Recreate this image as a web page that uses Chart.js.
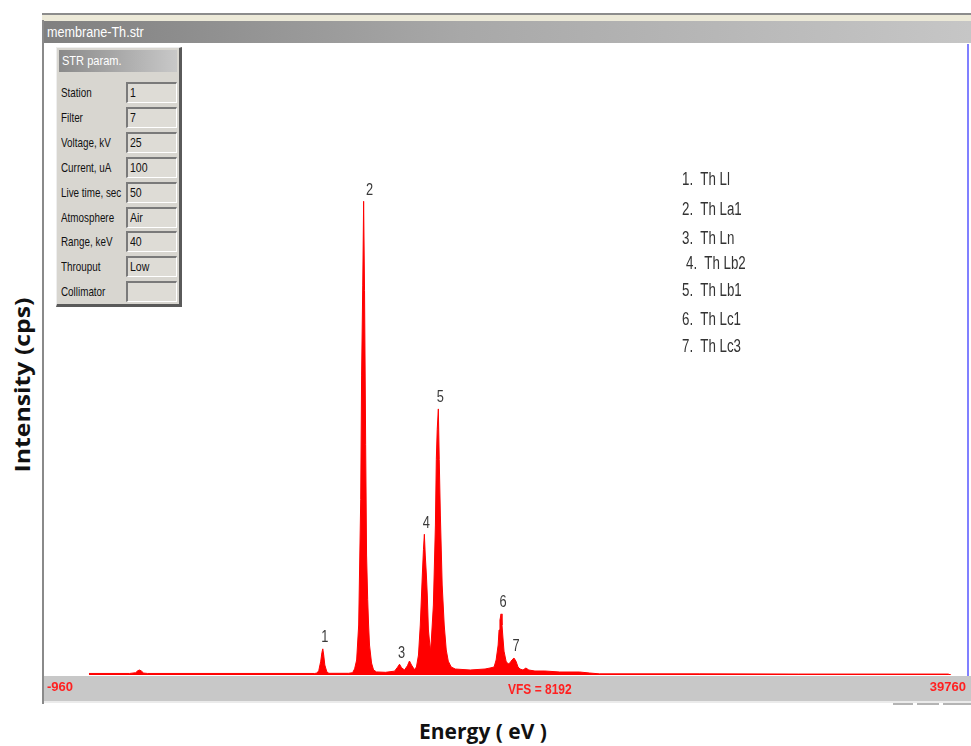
<!DOCTYPE html>
<html>
<head>
<meta charset="utf-8">
<script src="https://cdn.jsdelivr.net/npm/chart.js@4.4.1/dist/chart.umd.min.js"></script>
<style>
  body { margin: 0; width: 971px; height: 746px; overflow: hidden; background: #fff; position: relative; font-family: "Liberation Sans", Arial, sans-serif; }
  .abs { position: absolute; }
  .sq { display: inline-block; transform-origin: 0 50%; white-space: pre; }
  #frameTop { left: 42px; top: 13px; width: 929px; height: 7px; background: #ece9d8; border-top: 2px solid #8c8c8c; }
  #titleBar { left: 44px; top: 21px; width: 927px; height: 22px; background: linear-gradient(to right, #808080, #a8a8a8 45%, #c6c6c6); color: #fff; font-size: 14px; line-height: 22px; padding-left: 3px; box-sizing: border-box; }
  #leftEdge { left: 42px; top: 20px; width: 2px; height: 684px; background: #8a8a8a; }
  #blueEdge { left: 967px; top: 44px; width: 2px; height: 632px; background: #8080ff; }
  #bottomBar { left: 44px; top: 676px; width: 927px; height: 25px; background: #c8c8c8; }
  #bottomLine { left: 44px; top: 701px; width: 927px; height: 2px; background: #ebebeb; }
  .dash { top: 703px; height: 2px; background: #b4b4b4; }
  #vfs { left: 508px; top: 680px; color: #ff2020; font-size: 15px; font-weight: bold; z-index: 3; }
  #panel { left: 56px; top: 47px; width: 122px; height: 256px; background: #d8d6d0; border-right: 3px solid #5a5a5a; border-bottom: 3px solid #5a5a5a; border-left: 1px solid #eee; border-top: 1px solid #eee; z-index: 2; }
  #panelHead { left: 2px; top: 2px; width: 118px; height: 22px; background: linear-gradient(to right, #8a8a8a, #c8c8c8); color: #fff; font-size: 13px; line-height: 22px; padding-left: 3px; box-sizing: border-box; }
  .plabel { left: 4px; font-size: 13.5px; color: #111; }
  .pbox { left: 69px; width: 51px; height: 21px; box-sizing: border-box; border-top: 2px solid #7a7a7a; border-left: 2px solid #7a7a7a; border-right: 1px solid #fff; border-bottom: 1px solid #fff; background: #dedcd6; font-size: 13.5px; color: #111; padding-left: 2px; line-height: 18px; }
  .leg { font-size: 18px; color: #333; z-index: 2; }
  #yTitle { left: 22px; top: 385px; transform: translate(-50%, -50%) rotate(-90deg) scaleX(1.18); font-family: "Open Sans", sans-serif; font-weight: bold; font-size: 21px; color: #111; white-space: nowrap; }
  #xTitle { left: 483px; top: 731px; transform: translate(-50%, -50%); font-family: "Open Sans", sans-serif; font-weight: bold; font-size: 21px; color: #111; white-space: nowrap; }
  #chart { position: absolute; left: 0; top: 0; z-index: 1; }
</style>
</head>
<body>
<div id="frameTop" class="abs"></div>
<div id="titleBar" class="abs"><span class="sq" style="transform:scaleX(0.9)">membrane-Th.str</span></div>
<div id="leftEdge" class="abs"></div>
<div id="blueEdge" class="abs"></div>
<div id="bottomBar" class="abs"></div>
<div id="bottomLine" class="abs"></div>
<div class="abs dash" style="left:893px;width:20px"></div>
<div class="abs dash" style="left:917px;width:22px"></div>
<div class="abs dash" style="left:943px;width:28px"></div>
<div id="vfs" class="abs"><span class="sq" style="transform:scaleX(0.8)">VFS = 8192</span></div>
<div id="panel" class="abs"><div id="panelHead" class="abs"><span class="sq" style="transform:scaleX(0.85)">STR param.</span></div></div>
<div id="yTitle" class="abs">Intensity (cps)</div>
<div id="xTitle" class="abs">Energy ( eV )</div>
<canvas id="chart" width="971" height="746"></canvas>
<script>
// spectrum, energy in eV and intensity in counts (full scale 8192)
const energy = [900, 2700, 2970, 3060, 3140, 3230, 3320, 3500, 10900, 11000, 11080, 11170, 11220, 11260, 11300, 11350, 11440, 11530,
  12400, 12580, 12670, 12760, 12850, 12940, 12980, 13030, 13070, 13110, 13160, 13200, 13250, 13290, 13330, 13420, 13510, 13640,
  14040, 14440, 14570, 14660, 14750, 14880, 15010, 15100, 15190, 15320, 15410, 15500, 15580, 15670, 15720, 15760, 15800, 15850,
  15890, 15940, 16030, 16070, 16160, 16250, 16290, 16330, 16380, 16420, 16470, 16510, 16550, 16640, 16730, 16820, 16950, 17130,
  17790, 18450, 18670, 18850, 18940, 19030, 19070, 19110, 19160, 19200, 19250, 19290, 19380, 19470, 19550, 19640, 19730, 19820,
  19910, 20000, 20130, 20260, 20390, 20660, 21100, 21760, 22640, 23080, 23520, 27940, 32350, 38970, 39100];
const counts = [20, 20, 30, 55, 65, 50, 25, 20, 20, 25, 55, 180, 290, 340, 260, 130, 40, 22,
  22, 30, 80, 195, 650, 2280, 3900, 5070, 6160, 5000, 3000, 1560, 980, 650, 390, 156, 65, 40,
  35, 50, 100, 140, 95, 65, 120, 182, 130, 70, 104, 260, 650, 1300, 1630, 1830, 1560, 1300,
  1040, 585, 310, 455, 910, 1950, 2800, 3190, 3460, 2800, 2080, 1625, 1170, 650, 325, 180, 104, 78,
  65, 78, 91, 104, 195, 390, 585, 715, 795, 650, 455, 310, 180, 143, 156, 195, 221, 180,
  104, 78, 65, 91, 65, 52, 52, 39, 39, 26, 15, 15, 12, 12, 0];

const peakNumbers = ['1', '2', '3', '4', '5', '6', '7'];
const peakEnergy = [11260, 13070, 14660, 15760, 16380, 19160, 19730];
const peakCounts = [340, 6160, 140, 1830, 3460, 795, 221];
const lineNames = ['Th Ll', 'Th La1', 'Th Ln', 'Th Lb2', 'Th Lb1', 'Th Lc1', 'Th Lc3'];

const axisTicks = [-960, 39760];

const paramNames = ['Station', 'Filter', 'Voltage, kV', 'Current, uA', 'Live time, sec', 'Atmosphere', 'Range, keV', 'Throuput', 'Collimator'];
const paramValues = ['1', '7', '25', '100', '50', 'Air', '40', 'Low', ''];

// parameter panel
const panel = document.getElementById('panel');
paramNames.forEach((name, i) => {
  const y = 34 + i * 24.9;
  const lab = document.createElement('div');
  lab.className = 'abs plabel';
  lab.style.top = (y + 3) + 'px';
  lab.innerHTML = '<span class="sq" style="transform:scaleX(0.73)"></span>';
  lab.firstChild.textContent = name;
  panel.appendChild(lab);
  const box = document.createElement('div');
  box.className = 'abs pbox';
  box.style.top = y + 'px';
  box.innerHTML = '<span class="sq" style="transform:scaleX(0.78)"></span>';
  box.firstChild.textContent = paramValues[i];
  panel.appendChild(box);
});

// list of lines
const legendTop = [169, 199, 228, 253, 280, 309, 336];
lineNames.forEach((name, i) => {
  const d = document.createElement('div');
  d.className = 'abs leg';
  d.style.left = (i === 3 ? 686 : 682) + 'px';
  d.style.top = legendTop[i] + 'px';
  d.innerHTML = '<span class="sq" style="transform:scaleX(0.74)"></span>';
  d.firstChild.textContent = peakNumbers[i] + '.  ' + name;
  document.body.appendChild(d);
});

const peakLabels = {
  id: 'peakLabels',
  afterDatasetsDraw(chart) {
    const { ctx, scales } = chart;
    peakNumbers.forEach((n, i) => {
      const x = scales.x.getPixelForValue(peakEnergy[i]) + (i === 1 ? 6 : 2);
      const y = scales.y.getPixelForValue(peakCounts[i]) - 3;
      ctx.save();
      ctx.translate(x, y);
      ctx.scale(0.8, 1);
      ctx.fillStyle = '#3a3a3a';
      ctx.font = '16px "Liberation Sans", Arial, sans-serif';
      ctx.textAlign = 'center';
      ctx.textBaseline = 'bottom';
      ctx.fillText(n, 0, 0);
      ctx.restore();
    });
  }
};

new Chart(document.getElementById('chart').getContext('2d'), {
  type: 'line',
  data: {
    datasets: [{
      data: energy.map((e, i) => ({ x: e, y: counts[i] })),
      borderColor: '#ff0000',
      backgroundColor: '#ff0000',
      borderWidth: 1,
      fill: 'origin',
      pointRadius: 0,
      tension: 0,
    }],
  },
  options: {
    responsive: false,
    animation: false,
    devicePixelRatio: 1,
    layout: { padding: { left: 47, right: 3, top: 45, bottom: 46 } },
    plugins: { legend: { display: false }, tooltip: { enabled: false } },
    scales: {
      x: {
        type: 'linear',
        min: -960,
        max: 39760,
        grid: { display: false, drawTicks: false },
        border: { display: false },
        afterBuildTicks: (scale) => { scale.ticks = axisTicks.map((v) => ({ value: v })); },
        afterFit: (scale) => { scale.height = 25; },
        ticks: {
          align: 'inner',
          maxRotation: 0,
          autoSkip: false,
          padding: 5,
          color: '#ff2020',
          callback: (v) => String(v),
          font: { family: '"Liberation Sans", Arial, sans-serif', size: 13, weight: 'bold' },
        },
      },
      y: { display: false, min: 0, max: 8192 },
    },
  },
  plugins: [peakLabels],
});
</script>
</body>
</html>
